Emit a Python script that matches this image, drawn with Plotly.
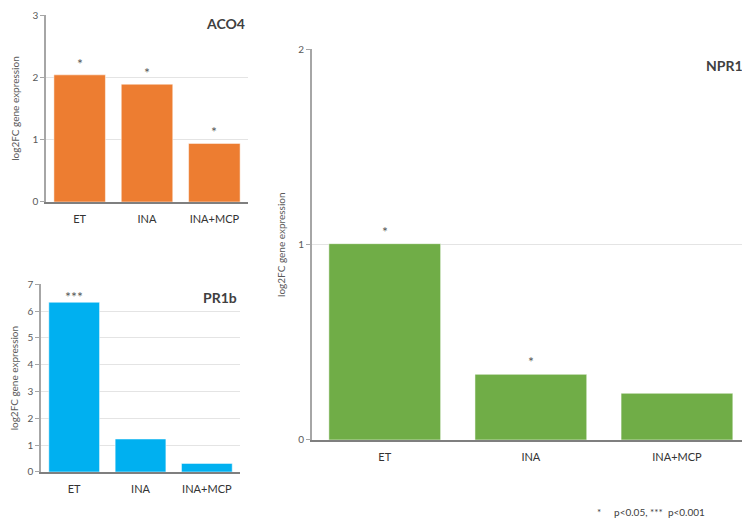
import plotly.graph_objects as go

categories = ["ET", "INA", "INA+MCP"]
aco4_values = [2.04, 1.89, 0.94]
pr1b_values = [6.33, 1.23, 0.32]
npr1_values = [1.005, 0.336, 0.239]
aco4_sig = ["*", "*", "*"]
pr1b_sig = ["***", "", ""]
npr1_sig = ["*", "*", ""]

aco4_ticks = [0, 1, 2, 3]
pr1b_ticks = [0, 1, 2, 3, 4, 5, 6, 7]
npr1_ticks = [0, 1, 2]

FONT = "Lato"
W, H = 742, 512  # page body has an 8px margin in the 750x520 window
fig = go.Figure()

panels = [
    dict(name="ACO4", vals=aco4_values, sig=aco4_sig, ticks=aco4_ticks, color="#ED7D31",
         xd=[0.0512, 0.3235], yd=[0.6211, 0.9863], xa="x", ya="y", sig_shift=14, tshift=2),
    dict(name="PR1b", vals=pr1b_values, sig=pr1b_sig, ticks=pr1b_ticks, color="#00B0F0",
         xd=[0.0445, 0.3127], yd=[0.0938, 0.4604], xa="x2", ya="y2", sig_shift=8, tshift=-3),
    dict(name="NPR1", vals=npr1_values, sig=npr1_sig, ticks=npr1_ticks, color="#70AD47",
         xd=[0.4093, 1.0], yd=[0.1563, 0.9193], xa="x3", ya="y3", sig_shift=15, tshift=-6),
]

for i, p in enumerate(panels):
    suffix = "" if i == 0 else str(i + 1)
    fig.add_trace(go.Bar(
        x=categories, y=p["vals"], xaxis=p["xa"], yaxis=p["ya"],
        marker=dict(color=p["color"], line=dict(color="rgba(255,255,255,0.5)", width=1)),
        showlegend=False, hoverinfo="skip",
    ))
    fig.update_layout(**{
        "xaxis" + suffix: dict(
            domain=p["xd"], anchor=p["ya"], showgrid=False, showline=True, automargin=False,
            linecolor="#7F7F7F", linewidth=1.5, ticks="", ticklabelstandoff=6,
            tickfont=dict(size=11, color="#333333", family=FONT),
            fixedrange=True,
        ),
        "yaxis" + suffix: dict(
            domain=p["yd"], anchor=p["xa"], range=[0, max(p["ticks"])], tickvals=p["ticks"],
            automargin=False,
            showgrid=True, gridcolor="#E4E4E4", gridwidth=1, showline=True, linecolor="#A6A6A6",
            linewidth=1.5, ticks="outside", ticklen=4, tickcolor="#A6A6A6",
            tickfont=dict(size=10, color="#595959", family=FONT), zeroline=False,
            title=dict(text="log2FC gene expression", font=dict(size=10, color="#595959", family=FONT), standoff=11),
            fixedrange=True,
        ),
    })
    fig.add_annotation(
        x=1, xref="x" + suffix + " domain", y=1, yref="y" + suffix + " domain",
        text="<b>" + p["name"] + "</b>", showarrow=False, xanchor="right", yanchor="top",
        xshift=-1 if p["name"] != "NPR1" else -5, yshift=p["tshift"],
        font=dict(size=14, color="#404040", family=FONT),
    )
    for c, v, s in zip(categories, p["vals"], p["sig"]):
        if s:
            fig.add_annotation(
                x=c, y=v, xref=p["xa"], yref=p["ya"], text=s, showarrow=False,
                yanchor="bottom", yshift=p["sig_shift"] - 13,
                font=dict(size=14, color="#595959", family=FONT),
            )

fig.add_annotation(
    x=0.791, y=0.0, xref="paper", yref="paper", text="*     p<0.05, ***  p<0.001",
    showarrow=False, xanchor="left", yanchor="bottom",
    font=dict(size=10, color="#404040", family=FONT),
)

fig.update_layout(
    width=W, height=H, margin=dict(l=0, r=0, t=0, b=0),
    paper_bgcolor="white", plot_bgcolor="white", bargap=0.235,
    font=dict(family=FONT),
)

fig.write_html("out.html")
